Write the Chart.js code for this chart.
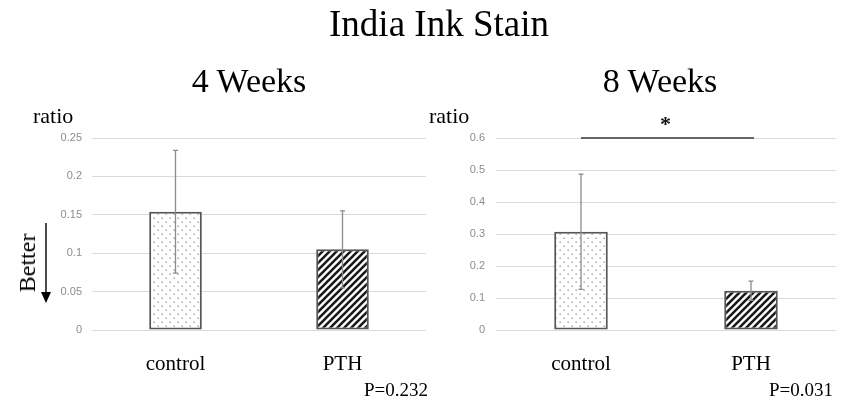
<!DOCTYPE html>
<html>
<head>
<meta charset="utf-8">
<script src="https://cdn.jsdelivr.net/npm/chart.js@4.4.1/dist/chart.umd.min.js"></script>
<style>
  html, body { margin: 0; padding: 0; background: #fff; }
  #wrap { position: relative; width: 846px; height: 400px; overflow: hidden; }
  canvas { position: absolute; top: 0; }
  .txt { position: absolute; font-family: "Liberation Serif", "Times New Roman", serif; line-height: 1; white-space: nowrap; color: #000; }
</style>
</head>
<body>
<div id="wrap">
  <canvas id="week4Chart" width="430" height="400" style="left:0"></canvas>
  <canvas id="week8Chart" width="416" height="400" style="left:430px"></canvas>

  <div class="txt" style="font-size:37px; left:439px; top:5px; transform:translateX(-50%)">India Ink Stain</div>
  <div class="txt" style="font-size:34px; left:249px; top:64px; transform:translateX(-50%)">4 Weeks</div>
  <div class="txt" style="font-size:34px; left:660px; top:64px; transform:translateX(-50%)">8 Weeks</div>
  <div class="txt" style="font-size:22px; left:33px; top:105px">ratio</div>
  <div class="txt" style="font-size:22px; left:429px; top:105px">ratio</div>
  <div class="txt" style="font-size:24px; left:27px; top:263px; transform:translate(-50%,-50%) rotate(-90deg)">Better</div>
  <div class="txt" style="font-size:19px; right:418px; top:380px">P=0.232</div>
  <div class="txt" style="font-size:19px; right:13px; top:380px">P=0.031</div>
</div>

<script>
// data
const groups = ['control', 'PTH'];

const week4Mean = [0.154, 0.105];
const week4Sd = [0.080, 0.050];
const week4Ticks = { max: 0.25, step: 0.05 };

const week8Mean = [0.307, 0.123];
const week8Sd = [0.180, 0.030];
const week8Ticks = { max: 0.6, step: 0.1 };

const sigLevel = 0.6;   // bracket for the 8 week comparison
const sigMark = '*';

// fill patterns: dotted for control, hatched for PTH
function dotPattern() {
    const c = document.createElement('canvas');
    c.width = 8; c.height = 8;
    const g = c.getContext('2d');
    g.fillStyle = '#fff';
    g.fillRect(0, 0, 8, 8);
    g.fillStyle = '#8a8a8a';
    g.fillRect(1.5, 1.5, 1.3, 1.3);
    g.fillRect(5.5, 5.5, 1.3, 1.3);
    return g.createPattern(c, 'repeat');
}

function hatchPattern() {
    const s = 7;
    const c = document.createElement('canvas');
    c.width = s; c.height = s;
    const g = c.getContext('2d');
    g.fillStyle = '#fff';
    g.fillRect(0, 0, s, s);
    g.strokeStyle = '#1a1a1a';
    g.lineWidth = 2.6;
    g.beginPath();
    g.moveTo(-1, s + 1); g.lineTo(s + 1, -1);
    g.moveTo(-1, 1); g.lineTo(1, -1);
    g.moveTo(s - 1, s + 1); g.lineTo(s + 1, s - 1);
    g.stroke();
    return g.createPattern(c, 'repeat');
}

// whiskers drawn on top of the bars
function errorBars(means, sds) {
    return {
        id: 'errorBars',
        afterDatasetsDraw(chart) {
            const ctx = chart.ctx;
            const y = chart.scales.y;
            const meta = chart.getDatasetMeta(0);
            ctx.save();
            ctx.strokeStyle = '#8c8c8c';
            ctx.lineWidth = 1.3;
            meta.data.forEach((bar, i) => {
                const top = y.getPixelForValue(means[i] + sds[i]);
                const bot = y.getPixelForValue(means[i] - sds[i]);
                ctx.beginPath();
                ctx.moveTo(bar.x, top); ctx.lineTo(bar.x, bot);
                ctx.moveTo(bar.x - 2.5, top); ctx.lineTo(bar.x + 2.5, top);
                ctx.moveTo(bar.x - 2.5, bot); ctx.lineTo(bar.x + 2.5, bot);
                ctx.stroke();
            });
            ctx.restore();
        }
    };
}

// "Better" arrow pointing down, left of the 4 week axis
const betterArrow = {
    id: 'betterArrow',
    afterDraw(chart) {
        const ctx = chart.ctx;
        ctx.save();
        ctx.strokeStyle = '#000';
        ctx.fillStyle = '#000';
        ctx.lineWidth = 1.4;
        ctx.beginPath();
        ctx.moveTo(46, 223); ctx.lineTo(46, 294);
        ctx.stroke();
        ctx.beginPath();
        ctx.moveTo(41, 292); ctx.lineTo(51, 292); ctx.lineTo(46, 303);
        ctx.closePath();
        ctx.fill();
        ctx.restore();
    }
};

// significance bracket over the 8 week bars
const sigBracket = {
    id: 'sigBracket',
    afterDatasetsDraw(chart) {
        const ctx = chart.ctx;
        const meta = chart.getDatasetMeta(0);
        const yy = chart.scales.y.getPixelForValue(sigLevel);
        const x0 = meta.data[0].x, x1 = meta.data[1].x;
        ctx.save();
        ctx.strokeStyle = '#666';
        ctx.lineWidth = 2;
        ctx.beginPath();
        ctx.moveTo(x0, yy); ctx.lineTo(x1 + 3, yy);
        ctx.stroke();
        ctx.fillStyle = '#111';
        ctx.font = 'bold 22px "Liberation Serif"';
        ctx.textAlign = 'center';
        ctx.textBaseline = 'middle';
        ctx.fillText(sigMark, (x0 + x1) / 2 - 0.5, yy - 13);
        ctx.restore();
    }
};

function makeChart(id, means, ticks, yWidth, padRight, tickPad, extraPlugins, sds) {
    return new Chart(document.getElementById(id), {
        type: 'bar',
        data: {
            labels: groups,
            datasets: [{
                data: means,
                backgroundColor: [dotPattern(), hatchPattern()],
                borderColor: '#555',
                borderWidth: 2,
                borderSkipped: false,
                categoryPercentage: 1,
                barPercentage: 0.315
            }]
        },
        options: {
            responsive: false,
            animation: false,
            layout: { padding: { top: 138, bottom: 30, left: 0, right: padRight } },
            plugins: { legend: { display: false }, tooltip: { enabled: false } },
            scales: {
                x: {
                    grid: { display: false },
                    border: { display: false },
                    ticks: {
                        color: '#000',
                        padding: 14,
                        font: { family: '"Liberation Serif"', size: 21 }
                    },
                    afterFit(s) { s.height = 40; }
                },
                y: {
                    min: 0,
                    max: ticks.max,
                    grid: { color: '#dadada', lineWidth: 1, drawTicks: false },
                    border: { display: false },
                    ticks: {
                        stepSize: ticks.step,
                        color: '#8c8c8c',
                        padding: tickPad,
                        font: { family: '"Liberation Sans"', size: 11 },
                        // plain number form, e.g. 0.2 rather than 0.20
                        callback: v => String(+v.toFixed(2))
                    },
                    afterFit(s) { s.width = yWidth; }
                }
            }
        },
        plugins: [errorBars(means, sds)].concat(extraPlugins)
    });
}

makeChart('week4Chart', week4Mean, week4Ticks, 92, 4, 10, [betterArrow], week4Sd);
makeChart('week8Chart', week8Mean, week8Ticks, 66, 10, 11, [sigBracket], week8Sd);
</script>
</body>
</html>
